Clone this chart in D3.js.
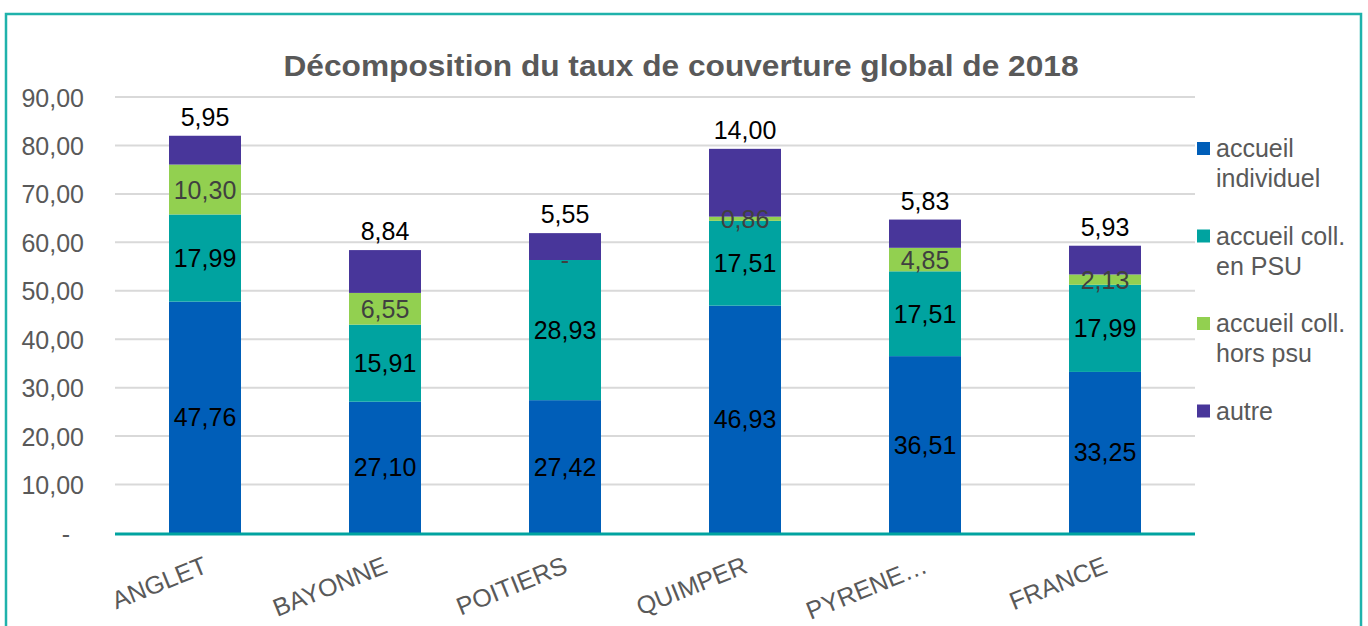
<!DOCTYPE html>
<html>
<head>
<meta charset="utf-8">
<script src="https://cdn.jsdelivr.net/npm/d3@7"></script>
<style>
  html, body { margin: 0; padding: 0; background: #fff; }
  svg { display: block; font-family: "Liberation Sans", Arial, sans-serif; }
</style>
</head>
<body>
<svg id="chart" width="1368" height="626"></svg>
<script>
// Taux de couverture 2018 par territoire, décomposé par mode d'accueil
const categories = ["ANGLET", "BAYONNE", "POITIERS", "QUIMPER", "PYRENE…", "FRANCE"];
const accueilIndividuel = [47.76, 27.10, 27.42, 46.93, 36.51, 33.25];
const accueilCollPSU    = [17.99, 15.91, 28.93, 17.51, 17.51, 17.99];
const accueilCollHorsPSU = [10.30, 6.55, 0, 0.86, 4.85, 2.13];
const autre             = [5.95, 8.84, 5.55, 14.00, 5.83, 5.93];
const seriesNames = ["accueil individuel", "accueil coll. en PSU", "accueil coll. hors psu", "autre"];
const legendLines = [["accueil", "individuel"], ["accueil coll.", "en PSU"], ["accueil coll.", "hors psu"], ["autre"]];
const yTicks = [0, 10, 20, 30, 40, 50, 60, 70, 80, 90];
const title = "Décomposition du taux de couverture global de 2018";

const colors = ["#005EB8", "#00A3A0", "#92D050", "#48369A"];
const labelColors = ["#000000", "#000000", "#404040", "#000000"];

const svg = d3.select("#chart");
const margin = { left: 115, right: 1195, top: 97, bottom: 533 };

// frame
svg.append("rect")
  .attr("x", 6).attr("y", 14)
  .attr("width", 1355).attr("height", 640)
  .attr("fill", "none")
  .attr("stroke", "#1FB2AB")
  .attr("stroke-width", 2.5);

// title
svg.append("text")
  .attr("x", 681).attr("y", 76)
  .attr("text-anchor", "middle")
  .attr("font-size", 29)
  .attr("font-weight", "bold")
  .attr("fill", "#595959")
  .attr("textLength", 795)
  .attr("lengthAdjust", "spacingAndGlyphs")
  .text(title);

const x = d3.scaleBand()
  .domain(categories)
  .range([margin.left, margin.right])
  .paddingInner(0.6)
  .paddingOuter(0.3);

const y = d3.scaleLinear()
  .domain([0, 90])
  .range([margin.bottom, margin.top]);

const fmt = v => v === 0 ? "-" : d3.format(".2f")(v).replace(".", ",");

// gridlines
svg.append("g")
  .selectAll("line")
  .data(yTicks.filter(t => t > 0))
  .join("line")
  .attr("x1", margin.left).attr("x2", margin.right)
  .attr("y1", d => y(d)).attr("y2", d => y(d))
  .attr("stroke", "#D9D9D9")
  .attr("stroke-width", 2);

// y axis labels
const yAxis = d3.axisLeft(y)
  .tickValues(yTicks)
  .tickFormat(fmt)
  .tickSize(0)
  .tickPadding(31);
const gy = svg.append("g")
  .attr("transform", `translate(${margin.left},0)`)
  .call(yAxis);
gy.select(".domain").remove();
gy.selectAll("text")
  .attr("font-size", 25)
  .attr("font-family", "Liberation Sans, Arial, sans-serif")
  .attr("fill", "#595959")
  .attr("dy", "0.36em")
  .attr("x", d => d === 0 ? -45 : -31);

// stacked data
const rows = categories.map((c, i) => ({
  cat: c,
  s0: accueilIndividuel[i],
  s1: accueilCollPSU[i],
  s2: accueilCollHorsPSU[i],
  s3: autre[i]
}));
const stack = d3.stack().keys(["s0", "s1", "s2", "s3"]);
const stacked = stack(rows);

const layers = svg.append("g")
  .selectAll("g")
  .data(stacked)
  .join("g")
  .attr("fill", (d, i) => colors[i]);

layers.selectAll("rect")
  .data(d => d)
  .join("rect")
  .attr("x", d => x(d.data.cat))
  .attr("width", x.bandwidth())
  .attr("y", d => y(d[1]))
  .attr("height", d => y(d[0]) - y(d[1]));

// x axis line
svg.append("line")
  .attr("x1", margin.left).attr("x2", margin.right)
  .attr("y1", y(0) + 1).attr("y2", y(0) + 1)
  .attr("stroke", "#00A3A0")
  .attr("stroke-width", 3);

// data labels
const labels = svg.append("g").attr("font-size", 25);
stacked.forEach((layer, si) => {
  labels.append("g")
    .selectAll("text")
    .data(layer)
    .join("text")
    .attr("x", d => x(d.data.cat) + x.bandwidth() / 2)
    .attr("y", d => si === 3 ? y(d[1]) - 10 : y((d[0] + d[1]) / 2))
    .attr("dy", si === 3 ? 0 : "0.36em")
    .attr("text-anchor", "middle")
    .attr("fill", labelColors[si])
    .text(d => fmt(d.data["s" + si]));
});

// category labels
svg.append("g")
  .selectAll("text")
  .data(categories)
  .join("text")
  .attr("transform", d => `translate(${x(d) + x.bandwidth() / 2 + 4},572) rotate(-22)`)
  .attr("text-anchor", "end")
  .attr("font-size", 25)
  .attr("fill", "#595959")
  .text(d => d);

// legend
const legend = svg.append("g");
seriesNames.forEach((name, i) => {
  const top = 142 + i * 87.5;
  const g = legend.append("g");
  g.append("rect")
    .attr("x", 1197).attr("y", top)
    .attr("width", 13).attr("height", 13)
    .attr("fill", colors[i]);
  const t = g.append("text")
    .attr("font-size", 25)
    .attr("fill", "#595959");
  legendLines[i].forEach((ln, j) => {
    t.append("tspan")
      .attr("x", 1216)
      .attr("y", top + 15 + j * 30)
      .text(ln);
  });
});
</script>
</body>
</html>
